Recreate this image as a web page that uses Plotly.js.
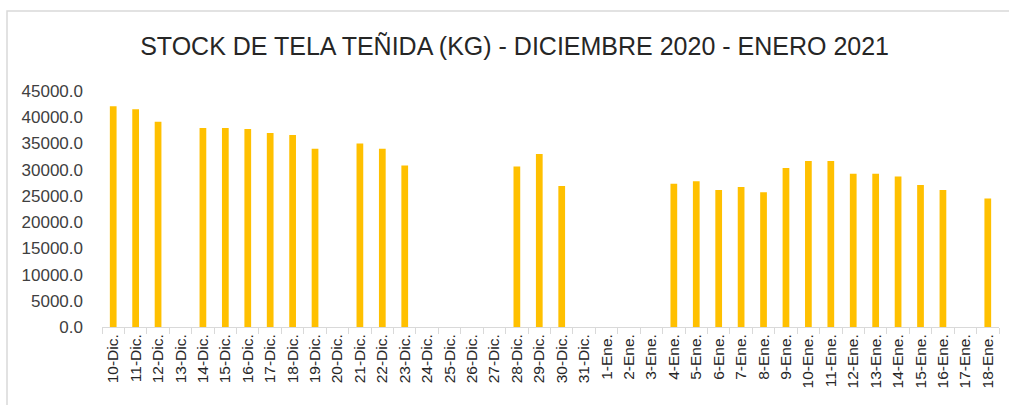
<!DOCTYPE html>
<html>
<head>
<meta charset="utf-8">
<script src="https://cdn.plot.ly/plotly-3.0.1.min.js"></script>
<style>html,body{margin:0;padding:0;background:#fff;}#chart{width:1009px;height:405px;}</style>
</head>
<body>
<div id="chart"></div>
<script>
const categories = ["10-Dic.","11-Dic.","12-Dic.","13-Dic.","14-Dic.","15-Dic.","16-Dic.","17-Dic.","18-Dic.","19-Dic.",
  "20-Dic.","21-Dic.","22-Dic.","23-Dic.","24-Dic.","25-Dic.","26-Dic.","27-Dic.","28-Dic.","29-Dic.","30-Dic.","31-Dic.",
  "1-Ene.","2-Ene.","3-Ene.","4-Ene.","5-Ene.","6-Ene.","7-Ene.","8-Ene.","9-Ene.","10-Ene.","11-Ene.","12-Ene.",
  "13-Ene.","14-Ene.","15-Ene.","16-Ene.","17-Ene.","18-Ene."];
const stockKg = [42100,41500,39150,null,37950,37950,37750,37000,36600,34000,
  null,35000,34000,30800,null,null,null,null,30600,33000,26900,null,
  null,null,null,27300,27800,26100,26700,25700,30300,31650,31650,29200,
  29200,28700,27100,26100,null,24500];
const yTicks = [0,5000,10000,15000,20000,25000,30000,35000,40000,45000];

const fontFam = '"Liberation Sans Narrow", "Liberation Sans", Arial, sans-serif';
const trace = {
  type: 'bar',
  x: categories,
  y: stockKg,
  marker: {color: '#FFC000'},
  hoverinfo: 'x+y'
};
const layout = {
  width: 1009, height: 405,
  margin: {l: 102, r: 10, t: 91, b: 78},
  paper_bgcolor: '#ffffff', plot_bgcolor: '#ffffff',
  bargap: 0.7,
  showlegend: false,
  title: {
    text: 'STOCK DE TELA TEÑIDA (KG) - DICIEMBRE 2020 - ENERO 2021',
    font: {family: fontFam, size: 25, color: '#262626'},
    x: 0.51, xanchor: 'center', y: 0.885, yanchor: 'middle'
  },
  xaxis: {
    type: 'category',
    tickangle: -90,
    tickson: 'boundaries',
    ticks: 'outside', ticklen: 6, tickcolor: '#d9d9d9',
    showline: true, linecolor: '#d9d9d9', linewidth: 1,
    showgrid: false, zeroline: false,
    tickfont: {family: fontFam, size: 15.5, color: '#262626'},
    automargin: false
  },
  yaxis: {
    range: [0, 45000],
    tickvals: yTicks,
    tickformat: '.1f',
    showgrid: false, zeroline: false, showline: false,
    ticks: '',
    ticklabelstandoff: 18,
    tickfont: {family: fontFam, size: 17, color: '#404040'},
    automargin: false
  },
  shapes: [{
    type: 'path', xref: 'paper', yref: 'paper',
    path: 'M -0.1059 -0.35 L -0.1059 1.339 L 1.2 1.339',
    line: {color: '#d9d9d9', width: 1.5}
  }]
};
Plotly.newPlot('chart', [trace], layout, {displayModeBar: false, staticPlot: true});
</script>
</body>
</html>
